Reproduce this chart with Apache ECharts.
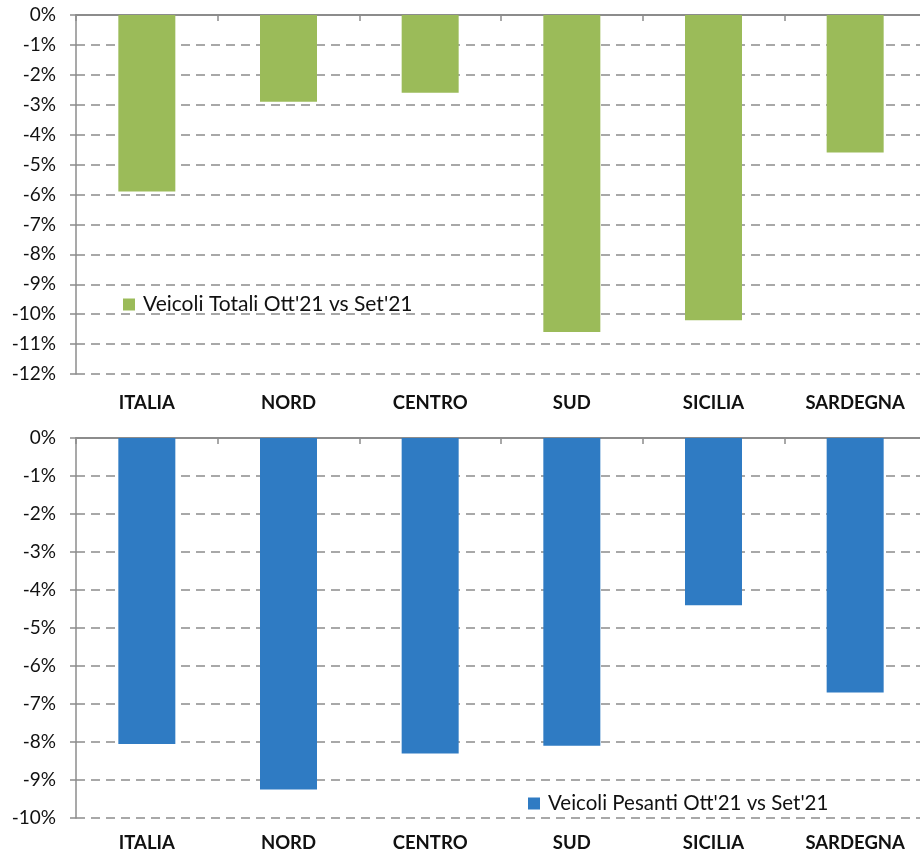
<!DOCTYPE html>
<html><head><meta charset="utf-8">
<script src="https://cdn.jsdelivr.net/npm/echarts@6/dist/echarts.min.js"></script>
<style>html,body{margin:0;padding:0;background:#fff}#c{width:920px;height:853px}</style>
</head><body><div id="c"></div>
<script>
const categories = ['ITALIA','NORD','CENTRO','SUD','SICILIA','SARDEGNA'];
const totaliValues = [-5.9, -2.9, -2.6, -10.6, -10.2, -4.6];
const pesantiValues = [-8.05, -9.25, -8.3, -8.1, -4.4, -6.7];
const totaliName = "Veicoli Totali Ott'21 vs Set'21";
const pesantiName = "Veicoli Pesanti Ott'21 vs Set'21";

const FONT = 'Lato';
const gridColor = '#8c8c8c';
const chart = echarts.init(document.getElementById('c'));

function yAxis(gi, min) {
  return {
    type: 'value', gridIndex: gi, min: min, max: 0, interval: 1,
    axisLine: {show: true, lineStyle: {color: '#8c8c8c', width: 1.5}},
    axisTick: {show: true, length: 6, lineStyle: {color: '#8c8c8c', width: 1.5}},
    axisLabel: {formatter: v => v + '%', color: '#111', fontFamily: FONT, fontSize: 19, margin: 20},
    splitLine: {show: true, lineStyle: {color: gridColor, type: [9, 6], width: 1.5}}
  };
}
function xTop(gi) {
  return {
    type: 'category', gridIndex: gi, data: categories, position: 'top',
    axisLine: {show: true, onZero: false, lineStyle: {color: '#8c8c8c', width: 2}},
    axisTick: {show: true, inside: true, length: 6, lineStyle: {color: '#8c8c8c', width: 1.5}},
    axisLabel: {show: false}, splitLine: {show: false}
  };
}
function xBottom(gi, margin) {
  return {
    type: 'category', gridIndex: gi, data: categories, position: 'bottom',
    axisLine: {show: false, onZero: false}, axisTick: {show: false},
    axisLabel: {color: '#111', fontFamily: FONT, fontSize: 18.5, fontWeight: 'bold', margin: margin},
    splitLine: {show: false}
  };
}

chart.setOption({
  animation: false,
  backgroundColor: '#fff',
  grid: [
    {left: 76, width: 850, top: 15, height: 359, outerBoundsMode: 'none', containLabel: false},
    {left: 76, width: 850, top: 438, height: 380, outerBoundsMode: 'none', containLabel: false}
  ],
  xAxis: [xTop(0), xBottom(0, 20), xTop(1), xBottom(1, 16)],
  yAxis: [yAxis(0, -12), yAxis(1, -10)],
  legend: [
    {data: [totaliName], left: 118, top: 289, itemWidth: 12, itemHeight: 12, icon: 'rect', itemGap: 10,
     textStyle: {fontFamily: FONT, fontSize: 21, color: '#111', padding: [0, 0, 0, 3]}},
    {data: [pesantiName], left: 523, top: 788, itemWidth: 12, itemHeight: 12, icon: 'rect',
     textStyle: {fontFamily: FONT, fontSize: 20.5, color: '#111', padding: [0, 0, 0, 3]}}
  ],
  series: [
    {name: totaliName, type: 'bar', xAxisIndex: 0, yAxisIndex: 0, data: totaliValues,
     barWidth: 57, itemStyle: {color: '#9BBB59'}},
    {name: pesantiName, type: 'bar', xAxisIndex: 2, yAxisIndex: 1, data: pesantiValues,
     barWidth: 57, itemStyle: {color: '#2F7BC3'}}
  ]
});
</script></body></html>
